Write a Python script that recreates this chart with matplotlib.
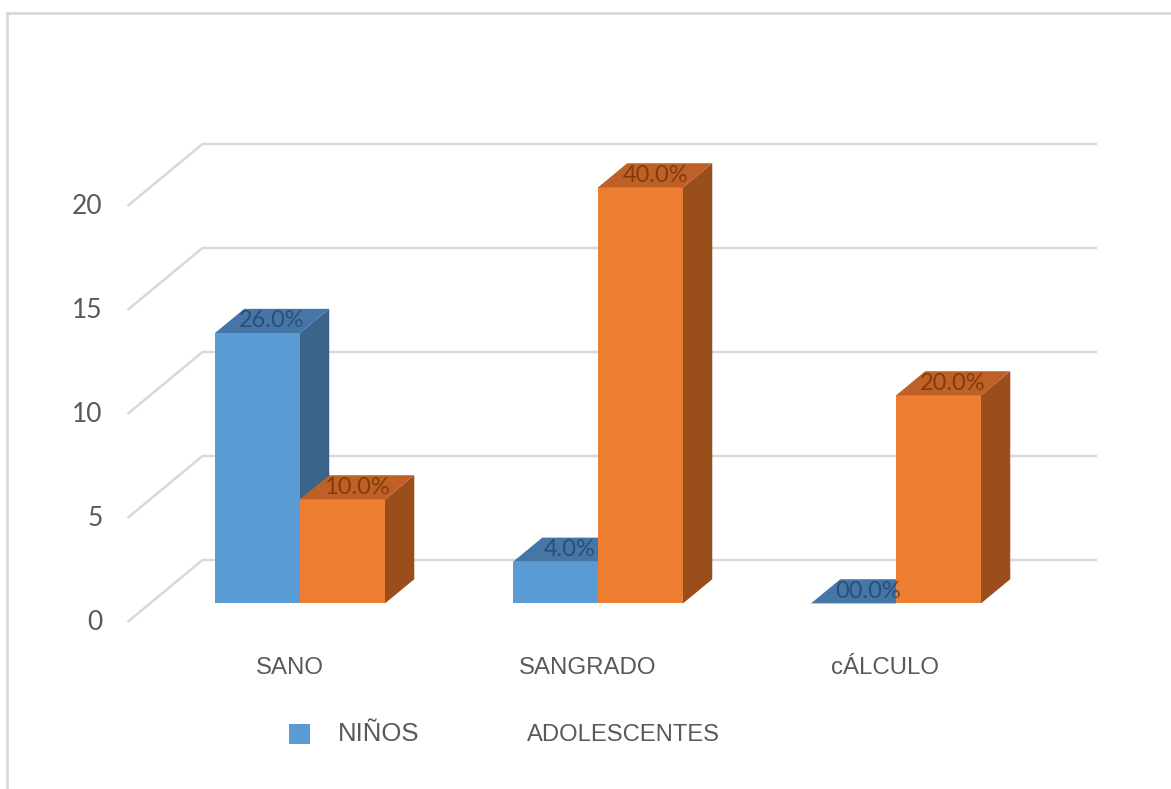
import matplotlib
matplotlib.use("Agg")
import matplotlib.pyplot as plt
from matplotlib.patches import Polygon, Rectangle
from matplotlib.lines import Line2D

# Data (counts, total n = 50)
categories = ["SANO", "SANGRADO", "cÁLCULO"]
ninos = [13, 2, 0]
adolescentes = [5, 20, 10]
ninos_labels = ["26.0%", "4.0%", "00.0%"]
adol_labels = ["10.0%", "40.0%", "20.0%"]
yticks = [0, 5, 10, 15, 20]

# Oblique projection for the fake 3D look
PX_PER_CAT = 298.0
PX_PER_VAL = 20.8
DEPTH_DX = 75.0 / PX_PER_CAT      # x shift per unit depth (category units)
DEPTH_DY = 62.0 / PX_PER_VAL      # y shift per unit depth (value units)
BAR_W = 85.0 / PX_PER_CAT
D_FRONT, D_BACK = 0.30, 0.69

blue_front, blue_top, blue_side = "#5B9BD5", "#4576a5", "#3a6489"
orng_front, orng_top, orng_side = "#ED7D31", "#bf6126", "#9a4e1c"
grid_col = "#d9d9d9"
text_col = "#595959"


def proj(x, y, d):
    return (x + d * DEPTH_DX, y + d * DEPTH_DY)


def bar3d(ax, x0, h, front, top, side, z):
    x1 = x0 + BAR_W
    f = [proj(x0, 0, D_FRONT), proj(x1, 0, D_FRONT), proj(x1, h, D_FRONT), proj(x0, h, D_FRONT)]
    t = [proj(x0, h, D_FRONT), proj(x1, h, D_FRONT), proj(x1, h, D_BACK), proj(x0, h, D_BACK)]
    s = [proj(x1, 0, D_FRONT), proj(x1, 0, D_BACK), proj(x1, h, D_BACK), proj(x1, h, D_FRONT)]
    if h > 0:
        ax.add_patch(Polygon(s, closed=True, fc=side, ec="none", zorder=z))
        ax.add_patch(Polygon(f, closed=True, fc=front, ec="none", zorder=z))
    ax.add_patch(Polygon(t, closed=True, fc=top, ec="none", zorder=z))


W, H = 1171, 789
fig = plt.figure(figsize=(W / 100, H / 100), dpi=100)
ax = fig.add_axes([0, 0, 1, 1])
ax.set_xlim(-277.5 / PX_PER_CAT, (W - 277.5) / PX_PER_CAT)
ax.set_ylim((622 - H) / PX_PER_VAL, 622 / PX_PER_VAL)
ax.axis("off")

# Gridlines: floor diagonal plus back wall
x_front = -150.0 / PX_PER_CAT
x_end = (1097 - 277.5 - 75) / PX_PER_CAT
for v in yticks:
    p0 = proj(x_front, v, 0)
    p1 = proj(x_front, v, 1)
    p2 = proj(x_end, v, 1)
    ax.plot([p0[0], p1[0], p2[0]], [p0[1], p1[1], p2[1]],
            color=grid_col, lw=1.8, zorder=1, solid_capstyle="butt")
    ax.text(x_front - 25.0 / PX_PER_CAT, v, str(v), ha="right", va="center",
            fontsize=19, color=text_col, family=["Lato", "DejaVu Sans"])

# Bars and value labels
for i, cat in enumerate(categories):
    xb = i - BAR_W
    xo = i
    bar3d(ax, xb, ninos[i], blue_front, blue_top, blue_side, 3)
    bar3d(ax, xo, adolescentes[i], orng_front, orng_top, orng_side, 4)
    dm = (D_FRONT + D_BACK) / 2
    lx, ly = proj(xb + BAR_W / 2, ninos[i], dm)
    ax.text(lx, ly, ninos_labels[i], ha="center", va="center", fontsize=17,
            color="#224a72", alpha=0.85, family=["Lato", "DejaVu Sans"], zorder=5)
    lx, ly = proj(xo + BAR_W / 2, adolescentes[i], dm)
    ax.text(lx, ly, adol_labels[i], ha="center", va="center", fontsize=17,
            color="#7a3508", alpha=0.85, family=["Lato", "DejaVu Sans"], zorder=5)
    ax.text(i + 0.04, -2.2, cat, ha="center", va="center", fontsize=17.3,
            color=text_col, family=["Liberation Sans", "DejaVu Sans"])

# Legend (only the first series shows a swatch)
fig.patches.append(Rectangle((289 / W, 1 - 744 / H), 21 / W, 20 / H,
                             transform=fig.transFigure, fc=blue_front, ec="none"))
fig.text(338 / W, 1 - 734 / H, "NIÑOS", ha="left", va="center", fontsize=18.5,
         color=text_col, family=["Liberation Sans", "DejaVu Sans"])
fig.text(527 / W, 1 - 735 / H, "ADOLESCENTES", ha="left", va="center", fontsize=17.1,
         color=text_col, family=["Liberation Sans", "DejaVu Sans"])

# Outer chart frame
fig.add_artist(Line2D([7 / W, 7 / W], [0, 1 - 13 / H], transform=fig.transFigure,
                      color=grid_col, lw=2))
fig.add_artist(Line2D([7 / W, 1], [1 - 13 / H, 1 - 13 / H], transform=fig.transFigure,
                      color=grid_col, lw=2))

fig.savefig("out.png", dpi=100)
